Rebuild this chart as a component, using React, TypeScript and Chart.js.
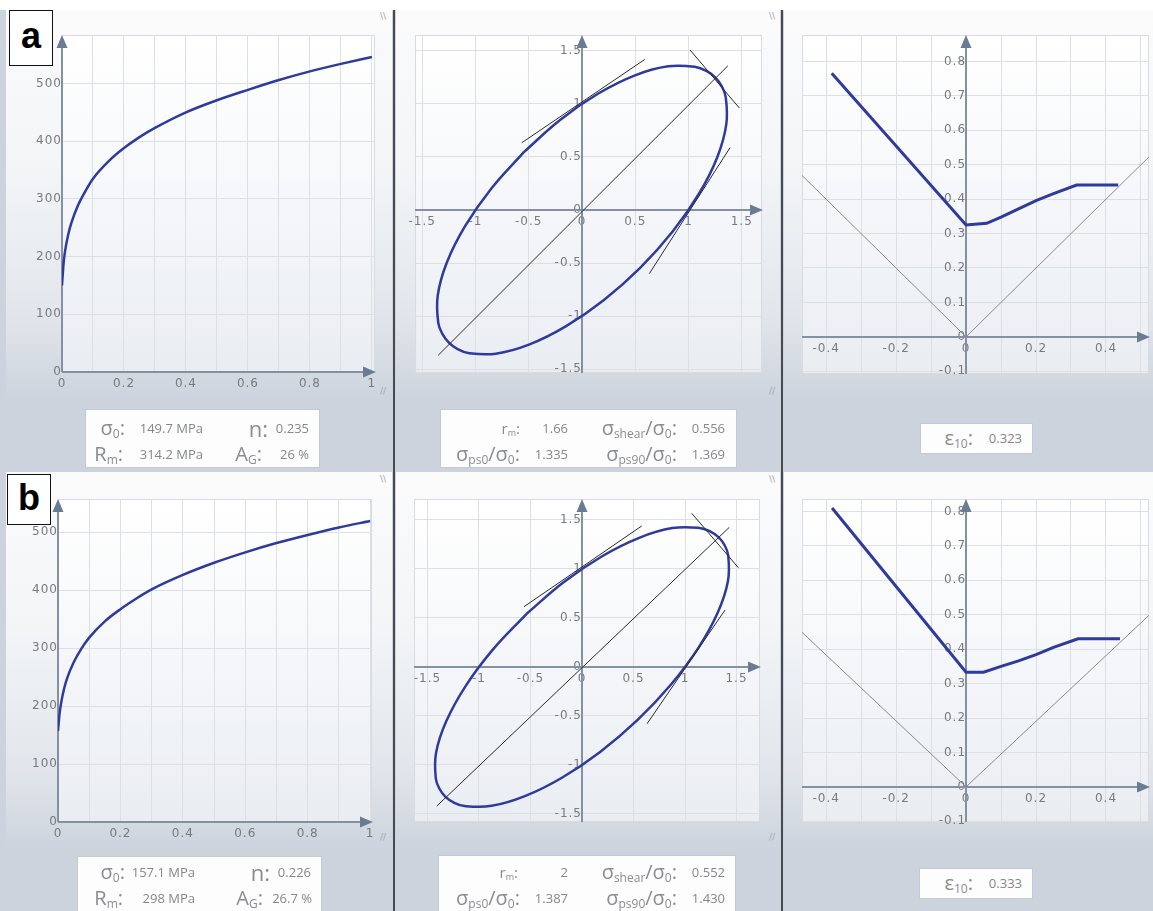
import React, { useEffect, useRef } from 'react';
import { Chart, registerables } from 'chart.js';

Chart.register(...registerables);

// ---------------- data ----------------
// Flow curves (true strain vs. stress, MPa)
const STRAIN_A = [0, 0.005, 0.01, 0.02, 0.03, 0.05, 0.075, 0.1, 0.15, 0.2, 0.25, 0.3, 0.4, 0.5, 0.6, 0.7, 0.8, 0.9, 1.0];
const STRESS_A = [150, 188, 210, 238, 258, 287, 313, 335, 365, 388, 407, 423, 450, 471, 489, 506, 521, 534, 546];
const STRAIN_B = [0, 0.005, 0.01, 0.02, 0.03, 0.05, 0.075, 0.1, 0.15, 0.2, 0.25, 0.3, 0.4, 0.5, 0.6, 0.7, 0.8, 0.9, 1.0];
const STRESS_B = [157, 187, 205, 231, 249, 275, 299, 318, 346, 367, 385, 401, 426, 447, 465, 481, 495, 508, 519];

const FLOW_X_TICKS = [0, 0.1, 0.2, 0.3, 0.4, 0.5, 0.6, 0.7, 0.8, 0.9, 1];
const FLOW_X_LABELS = [0, 0.2, 0.4, 0.6, 0.8, 1];
const FLOW_Y_TICKS = [0, 100, 200, 300, 400, 500];

// Yield loci (sigma1/sigma0, sigma2/sigma0)
const LOCUS_A_X = [-0.546, -0.851, -1.098, -1.270, -1.355, -1.349, -1.311, -1.250, -1.168, -1.067, -0.810, -0.498, -0.153, 0.203, 0.546, 0.851, 1.098, 1.270, 1.355, 1.349, 1.311, 1.250, 1.168, 1.067, 0.810, 0.498, 0.153, -0.203, -0.546];
const LOCUS_A_Y = [0.546, 0.203, -0.153, -0.498, -0.810, -1.067, -1.168, -1.250, -1.311, -1.349, -1.355, -1.270, -1.098, -0.851, -0.546, -0.203, 0.153, 0.498, 0.810, 1.067, 1.168, 1.250, 1.311, 1.349, 1.355, 1.270, 1.098, 0.851, 0.546];
const LOCUS_B_X = [-0.540, -0.864, -1.130, -1.318, -1.417, -1.419, -1.384, -1.325, -1.243, -1.140, -0.877, -0.555, -0.195, 0.179, 0.540, 0.864, 1.130, 1.318, 1.417, 1.419, 1.384, 1.325, 1.243, 1.140, 0.877, 0.555, 0.195, -0.179, -0.540];
const LOCUS_B_Y = [0.540, 0.179, -0.195, -0.555, -0.877, -1.140, -1.243, -1.325, -1.384, -1.419, -1.417, -1.318, -1.130, -0.864, -0.540, -0.179, 0.195, 0.555, 0.877, 1.140, 1.243, 1.325, 1.384, 1.419, 1.417, 1.318, 1.130, 0.864, 0.540];

const DIAG_A_X = [-1.35, 1.37];
const DIAG_A_Y = [-1.37, 1.36];
const TAN_A1_X = [-0.566, 0.59];
const TAN_A1_Y = [0.634, 1.42];
const TAN_A2_X = [1.014, 1.477];
const TAN_A2_Y = [1.509, 0.962];
const TAN_A3_X = [0.632, 1.39];
const TAN_A3_Y = [-0.60, 0.588];

const DIAG_B_X = [-1.41, 1.43];
const DIAG_B_Y = [-1.42, 1.425];
const TAN_B1_X = [-0.563, 0.58];
const TAN_B1_Y = [0.615, 1.439];
const TAN_B2_X = [1.065, 1.518];
const TAN_B2_Y = [1.568, 1.013];
const TAN_B3_X = [0.631, 1.388];
const TAN_B3_Y = [-0.58, 0.58];

const LOCUS_TICKS = [-1.5, -1, -0.5, 0, 0.5, 1, 1.5];

// Forming limit curves (minor strain, major strain)
const FLC_A_X = [-0.384, 0, 0.059, 0.1, 0.15, 0.2, 0.25, 0.316, 0.435];
const FLC_A_Y = [0.766, 0.325, 0.33, 0.348, 0.372, 0.396, 0.416, 0.441, 0.441];
const FLC_B_X = [-0.383, 0, 0.05, 0.1, 0.15, 0.2, 0.25, 0.32, 0.44];
const FLC_B_Y = [0.81, 0.333, 0.333, 0.35, 0.366, 0.384, 0.405, 0.43, 0.43];
const REF_A_X = [-0.47, 0, 0.53];
const REF_A_Y = [0.47, 0, 0.53];
const REF_B_X = [-0.47, 0, 0.53];
const REF_B_Y = [0.45, 0, 0.505];

const FLC_X_TICKS = [-0.4, -0.3, -0.2, -0.1, 0, 0.1, 0.2, 0.3, 0.4, 0.5];
const FLC_X_LABELS = [-0.4, -0.2, 0, 0.2, 0.4];
const FLC_Y_TICKS = [-0.1, 0, 0.1, 0.2, 0.3, 0.4, 0.5, 0.6, 0.7, 0.8];

// ---------------- styling ----------------
const W = 1153;
const PAD = 40;
const BLUE = '#2f3b9c';
const TICK_COLOR = '#777b80';
const GRID_COLOR = '#dcdfe4';
const TICK_FONT = { family: '"DejaVu Sans", Verdana, sans-serif', size: 12 };

type Spec = {
  left: number; top: number; width: number; height: number;
  xMin: number; xMax: number; yMin: number; yMax: number;
  xTicks: number[]; xLabels: number[]; yTicks: number[]; yLabels: number[];
  datasets: any[];
};

function series(xs: number[], ys: number[], color: string, width: number, tension = 0, mono = false) {
  return {
    data: xs.map((x, i) => ({ x, y: ys[i] })),
    showLine: true,
    borderColor: color,
    backgroundColor: color,
    borderWidth: width,
    pointRadius: 0,
    pointHoverRadius: 0,
    tension,
    cubicInterpolationMode: mono ? 'monotone' : 'default',
    fill: false,
  };
}

const fmt = (v: number) => String(Math.round(v * 100) / 100);

const framePlugin = {
  id: 'frame',
  beforeDraw(chart: any) {
    const { ctx, chartArea } = chart;
    const { left, top, right, bottom } = chartArea;
    ctx.save();
    const g = ctx.createLinearGradient(0, top, 0, bottom);
    g.addColorStop(0, 'rgba(255,255,255,0.92)');
    g.addColorStop(1, 'rgba(235,238,243,0.92)');
    ctx.fillStyle = g;
    ctx.fillRect(left, top, right - left, bottom - top);
    ctx.strokeStyle = '#d8dce2';
    ctx.lineWidth = 1;
    ctx.strokeRect(left + 0.5, top + 0.5, right - left - 1, bottom - top - 1);
    ctx.restore();
    ctx.letterSpacing = '1px';
  },
  beforeDatasetsDraw(chart: any) {
    const { ctx, chartArea, scales } = chart;
    const { left, top, right, bottom } = chartArea;
    const x0 = Math.round(scales.x.getPixelForValue(0));
    const y0 = Math.round(scales.y.getPixelForValue(0));
    ctx.save();
    ctx.strokeStyle = '#8591a0';
    ctx.lineWidth = 2;
    ctx.beginPath();
    ctx.moveTo(left, y0);
    ctx.lineTo(right - 6, y0);
    ctx.moveTo(x0, bottom);
    ctx.lineTo(x0, top + 6);
    ctx.stroke();
    ctx.fillStyle = '#6b7c92';
    ctx.beginPath();
    ctx.moveTo(right + 1, y0);
    ctx.lineTo(right - 12, y0 - 5.5);
    ctx.lineTo(right - 12, y0 + 5.5);
    ctx.closePath();
    ctx.fill();
    ctx.beginPath();
    ctx.moveTo(x0, top);
    ctx.lineTo(x0 - 5.5, top + 13);
    ctx.lineTo(x0 + 5.5, top + 13);
    ctx.closePath();
    ctx.fill();
    ctx.restore();
  },
};

function makeOptions(s: Spec): any {
  const cb = (labels: number[]) => (value: any) =>
    labels.some((l) => Math.abs(l - Number(value)) < 1e-6) ? fmt(Number(value)) : '';
  return {
    animation: false,
    responsive: false,
    maintainAspectRatio: false,
    devicePixelRatio: 1,
    events: [],
    layout: { padding: PAD },
    plugins: { legend: { display: false }, tooltip: { enabled: false }, title: { display: false } },
    scales: {
      x: {
        type: 'linear',
        position: { y: 0 },
        min: s.xMin,
        max: s.xMax,
        afterBuildTicks: (ax: any) => { ax.ticks = s.xTicks.map((v) => ({ value: v })); },
        ticks: { callback: cb(s.xLabels), font: TICK_FONT, color: TICK_COLOR, padding: 5, autoSkip: false, maxRotation: 0, minRotation: 0 },
        grid: { color: GRID_COLOR, lineWidth: 1, drawTicks: false },
        border: { display: false },
      },
      y: {
        type: 'linear',
        position: { x: 0 },
        min: s.yMin,
        max: s.yMax,
        afterBuildTicks: (ax: any) => { ax.ticks = s.yTicks.map((v) => ({ value: v })); },
        ticks: { callback: cb(s.yLabels), font: TICK_FONT, color: TICK_COLOR, padding: 7, autoSkip: false },
        grid: { color: GRID_COLOR, lineWidth: 1, drawTicks: false },
        border: { display: false },
      },
    },
  };
}

function Plot({ spec }: { spec: Spec }) {
  const ref = useRef<HTMLCanvasElement>(null);
  useEffect(() => {
    const chart = new Chart(ref.current as HTMLCanvasElement, {
      type: 'scatter',
      data: { datasets: spec.datasets },
      options: makeOptions(spec),
      plugins: [framePlugin],
    } as any);
    return () => chart.destroy();
  }, []);
  const cw = spec.width + 2 * PAD;
  const ch = spec.height + 2 * PAD;
  return (
    <canvas
      ref={ref}
      width={cw}
      height={ch}
      style={{ position: 'absolute', left: spec.left - PAD, top: spec.top - PAD, width: cw, height: ch }}
    />
  );
}

const SPECS: Spec[] = [
  {
    left: 62, top: 35, width: 313, height: 337, xMin: 0, xMax: 1.01, yMin: 0, yMax: 584,
    xTicks: FLOW_X_TICKS, xLabels: FLOW_X_LABELS, yTicks: FLOW_Y_TICKS, yLabels: FLOW_Y_TICKS,
    datasets: [series(STRAIN_A, STRESS_A, BLUE, 2.5, 0, true)],
  },
  {
    left: 415, top: 35, width: 347, height: 338, xMin: -1.568, xMax: 1.69, yMin: -1.537, yMax: 1.65,
    xTicks: LOCUS_TICKS, xLabels: LOCUS_TICKS, yTicks: LOCUS_TICKS, yLabels: LOCUS_TICKS,
    datasets: [
      series(DIAG_A_X, DIAG_A_Y, '#2a2a2a', 1),
      series(TAN_A1_X, TAN_A1_Y, '#2a2a2a', 1),
      series(TAN_A2_X, TAN_A2_Y, '#2a2a2a', 1),
      series(TAN_A3_X, TAN_A3_Y, '#2a2a2a', 1),
      series(LOCUS_A_X, LOCUS_A_Y, BLUE, 2.5, 0.4),
    ],
  },
  {
    left: 802, top: 35, width: 347, height: 339, xMin: -0.469, xMax: 0.523, yMin: -0.108, yMax: 0.877,
    xTicks: FLC_X_TICKS, xLabels: FLC_X_LABELS, yTicks: FLC_Y_TICKS, yLabels: FLC_Y_TICKS,
    datasets: [
      series(REF_A_X, REF_A_Y, '#8a8a8a', 1),
      series(FLC_A_X, FLC_A_Y, BLUE, 3),
    ],
  },
  {
    left: 58, top: 499, width: 314, height: 323, xMin: 0, xMax: 1.006, yMin: 0, yMax: 557,
    xTicks: FLOW_X_TICKS, xLabels: FLOW_X_LABELS, yTicks: FLOW_Y_TICKS, yLabels: FLOW_Y_TICKS,
    datasets: [series(STRAIN_B, STRESS_B, BLUE, 2.5, 0, true)],
  },
  {
    left: 414, top: 499, width: 346, height: 323, xMin: -1.631, xMax: 1.728, yMin: -1.582, yMax: 1.714,
    xTicks: LOCUS_TICKS, xLabels: LOCUS_TICKS, yTicks: LOCUS_TICKS, yLabels: LOCUS_TICKS,
    datasets: [
      series(DIAG_B_X, DIAG_B_Y, '#2a2a2a', 1),
      series(TAN_B1_X, TAN_B1_Y, '#2a2a2a', 1),
      series(TAN_B2_X, TAN_B2_Y, '#2a2a2a', 1),
      series(TAN_B3_X, TAN_B3_Y, '#2a2a2a', 1),
      series(LOCUS_B_X, LOCUS_B_Y, BLUE, 2.5, 0.4),
    ],
  },
  {
    left: 802, top: 499, width: 347, height: 323, xMin: -0.469, xMax: 0.523, yMin: -0.102, yMax: 0.836,
    xTicks: FLC_X_TICKS, xLabels: FLC_X_LABELS, yTicks: FLC_Y_TICKS, yLabels: FLC_Y_TICKS,
    datasets: [
      series(REF_B_X, REF_B_Y, '#8a8a8a', 1),
      series(FLC_B_X, FLC_B_Y, BLUE, 3),
    ],
  },
];

// ---------------- layout helpers ----------------
const SYM = 20;
const VAL = 13;
const SYM_COLOR = '#8a8c8f';
const VAL_COLOR = '#85878a';

function Sub({ children }: { children: React.ReactNode }) {
  return <span style={{ fontSize: '0.6em', position: 'relative', top: '0.28em' }}>{children}</span>;
}

function T({ x, y, size, color, children }: { x: number; y: number; size: number; color: string; children: React.ReactNode }) {
  return (
    <div
      style={{
        position: 'absolute', right: W - x, top: y - size * 0.7, fontSize: size,
        lineHeight: `${size * 1.4}px`, color, whiteSpace: 'nowrap',
      }}
    >
      {children}
    </div>
  );
}

function Box({ l, t, w, h }: { l: number; t: number; w: number; h: number }) {
  return (
    <div
      style={{
        position: 'absolute', left: l, top: t, width: w, height: h, boxSizing: 'border-box',
        background: '#fdfdfd', border: '1px solid #c3cad3',
      }}
    />
  );
}

function Panel({ l, t, w, h }: { l: number; t: number; w: number; h: number }) {
  return (
    <div
      style={{
        position: 'absolute', left: l, top: t, width: w, height: h,
        background: 'linear-gradient(to bottom, #fbfbfc 0%, #f3f5f7 40%, #e2e6ec 78%, #ccd3dc 100%)',
      }}
    />
  );
}

function Mark({ x, y, s }: { x: number; y: number; s: string }) {
  return (
    <div style={{ position: 'absolute', left: x, top: y, fontSize: 9, color: '#9ea6b0', fontFamily: '"DejaVu Sans", sans-serif', lineHeight: '10px' }}>
      {s}
    </div>
  );
}

function Letter({ l, t, w, h, c }: { l: number; t: number; w: number; h: number; c: string }) {
  return (
    <div
      style={{
        position: 'absolute', left: l, top: t, width: w, height: h, boxSizing: 'border-box',
        background: '#fff', border: '1.5px solid #111', display: 'flex', alignItems: 'center',
        justifyContent: 'center', fontFamily: '"Liberation Sans", Arial, sans-serif', fontWeight: 700,
        fontSize: 36, color: '#000', paddingBottom: 4,
      }}
    >
      {c}
    </div>
  );
}

export default function App() {
  return (
    <div
      style={{
        position: 'fixed', left: 0, top: 0, width: W, height: 911, overflow: 'hidden',
        background: '#ffffff', fontFamily: '"Open Sans", "Noto Sans", sans-serif',
      }}
    >
      <div style={{ position: 'absolute', left: 0, top: 10, width: W, height: 901, background: '#ccd3dc' }} />

      <Panel l={6} t={10} w={386} h={392} />
      <Panel l={396} t={10} w={384} h={392} />
      <Panel l={784} t={10} w={369} h={392} />
      <Panel l={6} t={472} w={386} h={380} />
      <Panel l={396} t={472} w={384} h={380} />
      <Panel l={784} t={472} w={369} h={380} />

      <div style={{ position: 'absolute', left: 393, top: 10, width: 2, height: 901, background: '#474a4f' }} />
      <div style={{ position: 'absolute', left: 781, top: 10, width: 2, height: 901, background: '#474a4f' }} />

      <Mark x={380} y={11} s={'\\\\'} />
      <Mark x={769} y={11} s={'\\\\'} />
      <Mark x={380} y={386} s={'//'} />
      <Mark x={769} y={386} s={'//'} />
      <Mark x={380} y={474} s={'\\\\'} />
      <Mark x={769} y={474} s={'\\\\'} />
      <Mark x={380} y={832} s={'//'} />
      <Mark x={769} y={832} s={'//'} />

      {SPECS.map((s, i) => (
        <Plot key={i} spec={s} />
      ))}

      {/* info box a1 */}
      <Box l={85} t={409} w={235} h={59} />
      <T x={125} y={428} size={SYM} color={SYM_COLOR}>σ<Sub>0</Sub>:</T>
      <T x={203} y={428} size={VAL} color={VAL_COLOR}>149.7 MPa</T>
      <T x={268} y={428} size={22} color={SYM_COLOR}>n:</T>
      <T x={309} y={428} size={VAL} color={VAL_COLOR}>0.235</T>
      <T x={123} y={454} size={SYM} color={SYM_COLOR}>R<Sub>m</Sub>:</T>
      <T x={203} y={454} size={VAL} color={VAL_COLOR}>314.2 MPa</T>
      <T x={262} y={454} size={SYM} color={SYM_COLOR}>A<Sub>G</Sub>:</T>
      <T x={309} y={454} size={VAL} color={VAL_COLOR}>26 %</T>

      {/* info box a2 */}
      <Box l={440} t={409} w={297} h={59} />
      <T x={520} y={428} size={15} color={SYM_COLOR}>r<Sub>m</Sub>:</T>
      <T x={568} y={428} size={VAL} color={VAL_COLOR}>1.66</T>
      <T x={677} y={428} size={SYM} color={SYM_COLOR}>σ<Sub>shear</Sub>/σ<Sub>0</Sub>:</T>
      <T x={725} y={428} size={VAL} color={VAL_COLOR}>0.556</T>
      <T x={520} y={454} size={SYM} color={SYM_COLOR}>σ<Sub>ps0</Sub>/σ<Sub>0</Sub>:</T>
      <T x={568} y={454} size={VAL} color={VAL_COLOR}>1.335</T>
      <T x={677} y={454} size={SYM} color={SYM_COLOR}>σ<Sub>ps90</Sub>/σ<Sub>0</Sub>:</T>
      <T x={725} y={454} size={VAL} color={VAL_COLOR}>1.369</T>

      {/* info box a3 */}
      <Box l={920} t={423} w={113} h={31} />
      <T x={973} y={438} size={SYM} color={SYM_COLOR}>ε<Sub>10</Sub>:</T>
      <T x={1022} y={438} size={VAL} color={VAL_COLOR}>0.323</T>

      {/* info box b1 */}
      <Box l={77} t={856} w={245} h={60} />
      <T x={125} y={872} size={SYM} color={SYM_COLOR}>σ<Sub>0</Sub>:</T>
      <T x={195} y={872} size={VAL} color={VAL_COLOR}>157.1 MPa</T>
      <T x={270} y={872} size={22} color={SYM_COLOR}>n:</T>
      <T x={311} y={872} size={VAL} color={VAL_COLOR}>0.226</T>
      <T x={123} y={898} size={SYM} color={SYM_COLOR}>R<Sub>m</Sub>:</T>
      <T x={195} y={898} size={VAL} color={VAL_COLOR}>298 MPa</T>
      <T x={263} y={898} size={SYM} color={SYM_COLOR}>A<Sub>G</Sub>:</T>
      <T x={312} y={898} size={VAL} color={VAL_COLOR}>26.7 %</T>

      {/* info box b2 */}
      <Box l={438} t={855} w={298} h={60} />
      <T x={518} y={872} size={15} color={SYM_COLOR}>r<Sub>m</Sub>:</T>
      <T x={568} y={872} size={VAL} color={VAL_COLOR}>2</T>
      <T x={677} y={872} size={SYM} color={SYM_COLOR}>σ<Sub>shear</Sub>/σ<Sub>0</Sub>:</T>
      <T x={725} y={872} size={VAL} color={VAL_COLOR}>0.552</T>
      <T x={520} y={898} size={SYM} color={SYM_COLOR}>σ<Sub>ps0</Sub>/σ<Sub>0</Sub>:</T>
      <T x={568} y={898} size={VAL} color={VAL_COLOR}>1.387</T>
      <T x={677} y={898} size={SYM} color={SYM_COLOR}>σ<Sub>ps90</Sub>/σ<Sub>0</Sub>:</T>
      <T x={725} y={898} size={VAL} color={VAL_COLOR}>1.430</T>

      {/* info box b3 */}
      <Box l={919} t={868} w={114} h={31} />
      <T x={973} y={883} size={SYM} color={SYM_COLOR}>ε<Sub>10</Sub>:</T>
      <T x={1022} y={883} size={VAL} color={VAL_COLOR}>0.333</T>

      <Letter l={9} t={10} w={44} h={56} c="a" />
      <Letter l={7} t={474} w={44} h={51} c="b" />
    </div>
  );
}
